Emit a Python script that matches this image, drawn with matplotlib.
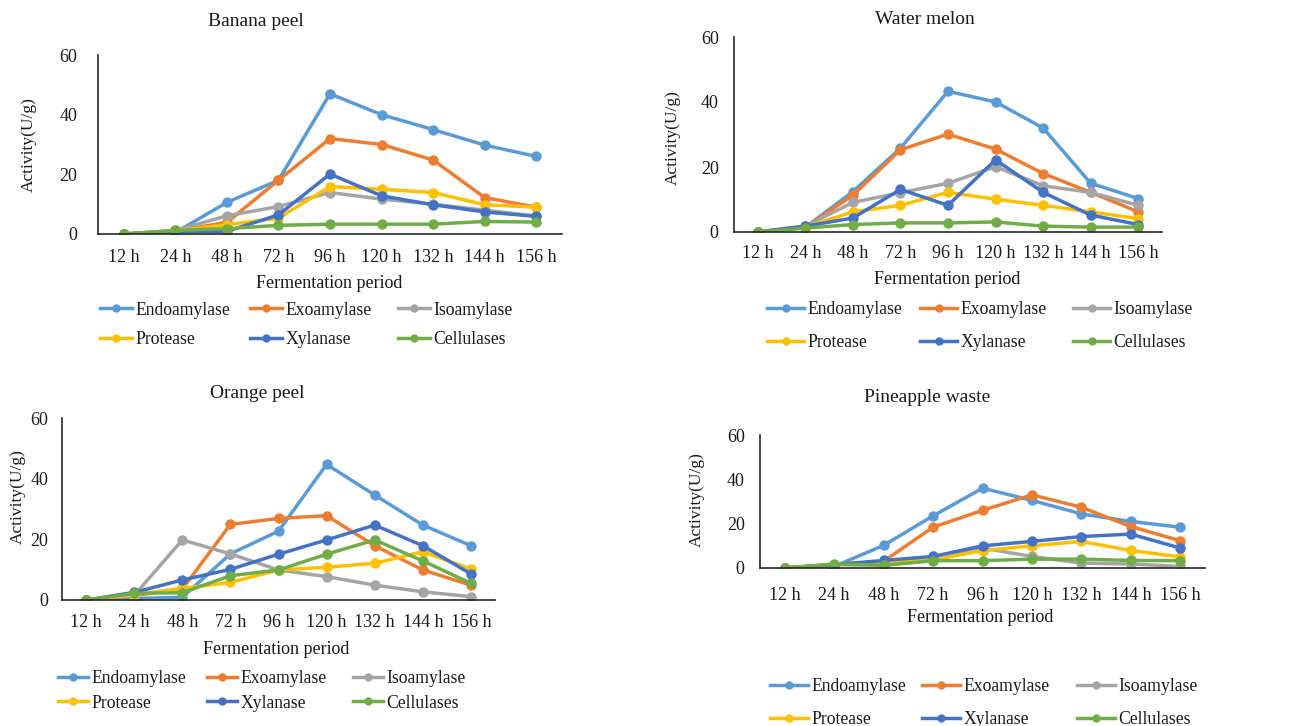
import matplotlib
matplotlib.use("Agg")
import matplotlib.pyplot as plt
from matplotlib.lines import Line2D

plt.rcParams['font.family'] = ['Liberation Serif', 'DejaVu Serif']

W, H = 1315, 726

categories = ["12 h", "24 h", "48 h", "72 h", "96 h", "120 h", "132 h", "144 h", "156 h"]
enzymes = ["Endoamylase", "Exoamylase", "Isoamylase", "Protease", "Xylanase", "Cellulases"]
colors = ["#5B9BD5", "#ED7D31", "#A5A5A5", "#FFC000", "#4472C4", "#70AD47"]

# Banana peel
banana_endo = [0, 0.5, 10.6, 18, 47, 40, 35, 29.8, 26]
banana_exo = [0, 1, 3.9, 18, 32, 30, 24.8, 12.2, 9]
banana_iso = [0, 1.2, 6.1, 9.2, 13.9, 11.7, 10, 8, 6]
banana_pro = [0, 1, 3.1, 5.3, 15.9, 15, 13.9, 9.8, 9]
banana_xyl = [0, 0.8, 0.9, 6.4, 20.1, 12.8, 9.8, 7.4, 5.9]
banana_cel = [0, 1.2, 1.8, 2.9, 3.3, 3.3, 3.3, 4.2, 4]

# Water melon
melon_endo = [0, 1.5, 12.4, 25.8, 43.3, 40, 32, 15, 10.3]
melon_exo = [0, 1.5, 11.3, 25.3, 30.1, 25.5, 18, 12.2, 6.2]
melon_iso = [0, 1.8, 9.1, 12.1, 15, 20.1, 14.2, 12.2, 8.2]
melon_pro = [0, 1.5, 6.2, 8.2, 12.2, 10.1, 8.2, 6.2, 4.1]
melon_xyl = [0, 1.8, 4.3, 13.1, 8.2, 22.2, 12.2, 5.2, 2.3]
melon_cel = [0, 1.2, 2.3, 2.8, 2.8, 3.1, 1.8, 1.5, 1.5]

# Orange peel
orange_endo = [0, 0.5, 0.9, 15.2, 22.7, 44.7, 34.6, 24.7, 17.9]
orange_exo = [0, 1.5, 3.6, 24.9, 26.9, 27.8, 17.9, 9.9, 4.9]
orange_iso = [0, 1.5, 19.8, 15.2, 9.9, 7.7, 4.9, 2.7, 1.1]
orange_pro = [0, 1.8, 3.8, 5.8, 9.9, 10.8, 12.1, 15.9, 10.2]
orange_xyl = [0, 2.5, 6.6, 10.1, 15.1, 19.8, 24.7, 17.9, 8.6]
orange_cel = [0, 2.2, 2.4, 8, 9.9, 15.1, 19.8, 12.9, 5.5]

# Pineapple waste
pine_endo = [0, 0.7, 10.2, 23.5, 36, 30.5, 24.4, 21, 18.4]
pine_exo = [0, 1.5, 3, 18.4, 26, 33, 27.4, 18.7, 12.3]
pine_iso = [0, 1.5, 1.5, 3.4, 9, 5.2, 2.2, 1.8, 0.7]
pine_pro = [0, 1.5, 2.2, 3.7, 7.8, 10, 12, 7.9, 5]
pine_xyl = [0, 1.5, 3.4, 5.2, 10, 12, 14.2, 15.3, 9]
pine_cel = [0, 1.8, 1.2, 3.3, 3.3, 4, 4, 3.4, 3.3]

yticks = [0, 20, 40, 60]

panels = [
    dict(title="Banana peel",
         series=[banana_endo, banana_exo, banana_iso, banana_pro, banana_xyl, banana_cel],
         box=(98, 562, 55, 234), title_xy=(256, 21), ylab_xy=(29, 145), xlab_xy=(329, 284),
         ypad=15, xpad=11, leg_cols=(100, 250, 398), leg_mid=325, hlen=32, rowsp=0.72),
    dict(title="Water melon",
         series=[melon_endo, melon_exo, melon_iso, melon_pro, melon_xyl, melon_cel],
         box=(734, 1162, 37, 232), title_xy=(925, 20), ylab_xy=(673, 138), xlab_xy=(947, 280),
         ypad=11, xpad=9, leg_cols=(767, 920, 1073), leg_mid=326, hlen=37, rowsp=0.92),
    dict(title="Orange peel",
         series=[orange_endo, orange_exo, orange_iso, orange_pro, orange_xyl, orange_cel],
         box=(62, 495, 418, 600), title_xy=(257, 393), ylab_xy=(18, 497), xlab_xy=(276, 649),
         ypad=10, xpad=10, leg_cols=(58, 207, 353), leg_mid=691, hlen=30, rowsp=0.4),
    dict(title="Pineapple waste",
         series=[pine_endo, pine_exo, pine_iso, pine_pro, pine_xyl, pine_cel],
         box=(760, 1205, 435, 568), title_xy=(927, 397), ylab_xy=(697, 500), xlab_xy=(980, 618),
         ypad=11, xpad=14, leg_cols=(770, 922, 1077), leg_mid=703, hlen=38, rowsp=0.92),
]

fig = plt.figure(figsize=(W / 100, H / 100), dpi=100)
txt = "#1a1a1a"
tick_fs = 13
leg_fs = 12.7
leg_px = leg_fs * 100 / 72


def fx(px):
    return px / W


def fy(py):
    return 1 - py / H


for p in panels:
    l, r, t, b = p["box"]
    ax = fig.add_axes([fx(l), fy(b), (r - l) / W, (b - t) / H])
    x = list(range(len(categories)))
    for vals, name, c in zip(p["series"], enzymes, colors):
        ax.plot(x, vals, color=c, lw=2.5, marker="o", ms=6.5, label=name,
                solid_joinstyle="round")
    ax.set_xlim(-0.5, len(categories) - 0.5)
    ax.set_ylim(0, 60)
    ax.set_yticks(yticks)
    ax.set_xticks(x)
    ax.set_xticklabels(categories)
    ax.tick_params(axis="y", length=0, pad=p["ypad"], labelsize=tick_fs, labelcolor=txt)
    ax.tick_params(axis="x", length=0, pad=p["xpad"], labelsize=tick_fs, labelcolor=txt)
    for s in ["top", "right"]:
        ax.spines[s].set_visible(False)
    for s in ["left", "bottom"]:
        ax.spines[s].set_color("#262626")
        ax.spines[s].set_linewidth(1.2)
    ax.patch.set_alpha(0)

    fig.text(fx(p["title_xy"][0]), fy(p["title_xy"][1]), p["title"], ha="center",
             va="center", fontsize=14, color=txt)
    fig.text(fx(p["ylab_xy"][0]), fy(p["ylab_xy"][1]), "Activity(U/g)", ha="center",
             va="center", rotation=90, fontsize=12.5, color=txt)
    fig.text(fx(p["xlab_xy"][0]), fy(p["xlab_xy"][1]), "Fermentation period", ha="center",
             va="center", fontsize=13, color=txt)

    handles = [Line2D([], [], color=c, lw=2.5, marker="o", ms=5) for c in colors]
    for ci, colx in enumerate(p["leg_cols"]):
        idx = [ci, ci + 3]
        fig.legend([handles[i] for i in idx], [enzymes[i] for i in idx],
                   loc="center left", bbox_to_anchor=(fx(colx), fy(p["leg_mid"])),
                   frameon=False, fontsize=leg_fs, borderpad=0, borderaxespad=0,
                   handlelength=p["hlen"] / leg_px, handletextpad=0.2,
                   labelspacing=p["rowsp"], numpoints=1, labelcolor=txt)

fig.savefig("out.png", dpi=100)
